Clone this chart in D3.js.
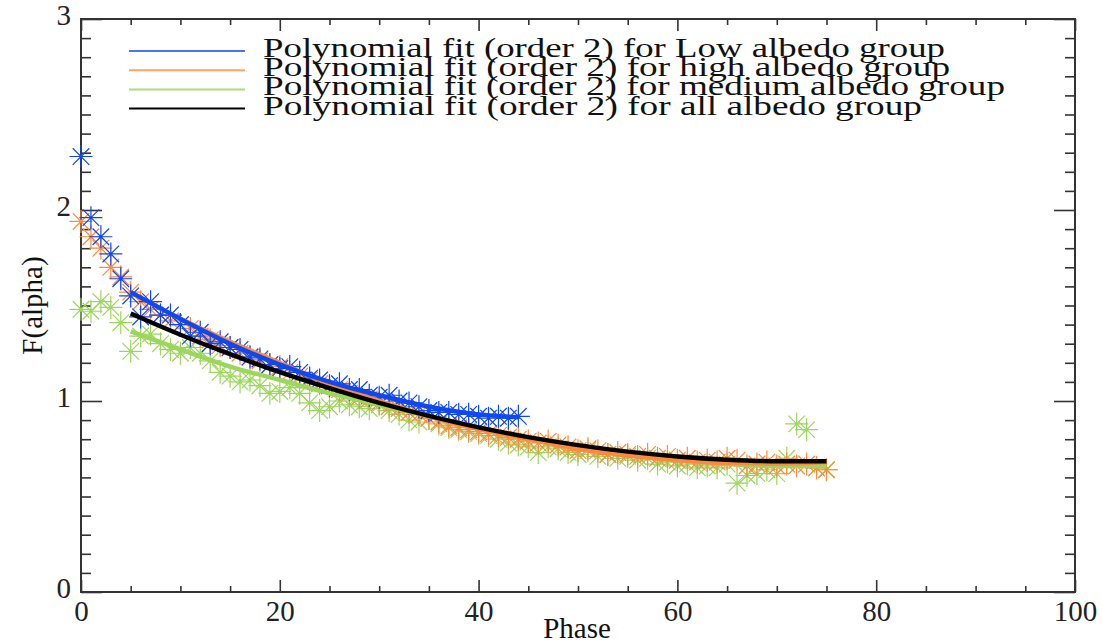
<!DOCTYPE html>
<html>
<head>
<meta charset="utf-8">
<script src="https://cdn.jsdelivr.net/npm/d3@7"></script>
<style>
  body { margin: 0; background: #fff; }
  svg { display: block; }
  .tick text { font-family: "Liberation Serif", serif; font-size: 29px; fill: #222; }
  .domain { display: none; }
  .tick line { stroke: #333; stroke-width: 1.6; }
</style>
</head>
<body>
<svg id="chart" width="1102" height="643"></svg>
<script>
// phase values for each sample (degrees)
var lowPhase = d3.range(0, 45);
var lowVals = [2.28, 1.96, 1.86, 1.77, 1.64, 1.55, 1.44, 1.52, 1.45, 1.45,
    1.40, 1.34, 1.36, 1.30, 1.31, 1.28, 1.27, 1.23, 1.22, 1.19,
    1.17, 1.18, 1.15, 1.12, 1.11, 1.08, 1.09, 1.06, 1.06, 1.03,
    1.02, 1.03, 1.00, 0.99, 0.97, 0.95, 0.94, 0.94, 0.93, 0.93,
    0.92, 0.91, 0.92, 0.91, 0.92];

var highPhase = d3.range(0, 76);
var highVals = [1.94, 1.86, 1.80, 1.70, 1.65, 1.57, 1.52, 1.48, 1.45, 1.42,
    1.40, 1.38, 1.34, 1.32, 1.29, 1.28, 1.25, 1.23, 1.21, 1.19,
    1.18, 1.15, 1.13, 1.11, 1.09, 1.08, 1.06, 1.04, 1.02, 1.01,
    0.99, 0.97, 0.96, 0.94, 0.93, 0.91, 0.89, 0.87, 0.86, 0.85,
    0.84, 0.83, 0.82, 0.81, 0.80, 0.79, 0.78, 0.79, 0.77, 0.76,
    0.74, 0.75, 0.74, 0.72, 0.73, 0.72, 0.71, 0.72, 0.70, 0.71,
    0.69, 0.70, 0.68, 0.69, 0.68, 0.70, 0.69, 0.66, 0.67, 0.68,
    0.66, 0.67, 0.66, 0.67, 0.65, 0.64];

var medPhase = d3.range(0, 76);
var medVals = [1.48, 1.47, 1.52, 1.49, 1.41, 1.26, 1.34, 1.35, 1.30, 1.27,
    1.25, 1.28, 1.25, 1.21, 1.15, 1.13, 1.10, 1.11, 1.08, 1.04,
    1.05, 1.07, 1.04, 0.99, 0.95, 0.97, 1.00, 0.98, 0.97, 0.96,
    0.98, 0.95, 0.93, 0.90, 0.89, 0.91, 0.88, 0.86, 0.85, 0.84,
    0.83, 0.82, 0.80, 0.78, 0.77, 0.76, 0.73, 0.76, 0.75, 0.73,
    0.72, 0.74, 0.71, 0.72, 0.70, 0.71, 0.69, 0.70, 0.67, 0.68,
    0.66, 0.67, 0.65, 0.66, 0.65, 0.67, 0.57, 0.61, 0.62, 0.64,
    0.62, 0.70, 0.88, 0.85, 0.65, 0.64];

// fitted curves
var fitPhase = [5, 10, 15, 20, 25, 30, 35, 40, 45, 50, 55, 60, 65, 70, 75];
var lowFitPhase = [5, 10, 15, 20, 25, 30, 35, 40, 44];
var lowFit = [1.57, 1.43, 1.30, 1.19, 1.10, 1.03, 0.97, 0.93, 0.915];
var highFit = [1.57, 1.43, 1.31, 1.20, 1.09, 1.00, 0.92, 0.855, 0.80, 0.75, 0.715, 0.69, 0.675, 0.672, 0.68];
var medFit = [1.365, 1.27, 1.18, 1.11, 1.04, 0.98, 0.92, 0.86, 0.80, 0.76, 0.72, 0.69, 0.67, 0.66, 0.66];
var allFit = [1.458, 1.347, 1.245, 1.151, 1.067, 0.99, 0.922, 0.862, 0.811, 0.769, 0.735, 0.71, 0.693, 0.685, 0.685];

var legendLabels = [
    'Polynomial fit (order 2) for Low albedo group',
    'Polynomial fit (order 2) for high albedo group',
    'Polynomial fit (order 2) for medium albedo group',
    'Polynomial fit (order 2) for all albedo group'
];

var xMajor = [0, 20, 40, 60, 80, 100];
var yMajor = [0, 1, 2, 3];

var colors = ['#1048f0', '#ff8a3d', '#9cd65c', '#000000'];
var legendColors = ['#4a74f0', '#ffa468', '#abdc78', '#000000'];
var legendWidths = [682, 687, 742, 659];

var svg = d3.select('#chart');
var padL = 81, padR = 1075, padT = 19, padB = 592;

var x = d3.scaleLinear().domain([0, 100]).range([padL, padR]);
var y = d3.scaleLinear().domain([0, 3]).range([padB, padT]);

var xMinor = d3.range(0, 101, 5).filter(function(d){ return d % 20 !== 0; });
var yMinor = d3.range(0, 31).map(function(d){ return d / 10; })
    .filter(function(d){ return Math.abs(d - Math.round(d)) > 0.01; });

// axes: ticks pointing inward
function addAxis(axisFn, scale, vals, size, translate, labels) {
    return svg.append('g').attr('transform', translate)
        .call(axisFn(scale).tickValues(vals).tickSize(size).tickFormat(labels ? d3.format('d') : ''));
}
addAxis(d3.axisBottom, x, xMajor, -12, 'translate(0,' + padB + ')', true)
    .selectAll('text').attr('y', 8).attr('dy', '0.71em');
addAxis(d3.axisBottom, x, xMinor, -6, 'translate(0,' + padB + ')', false);
addAxis(d3.axisTop, x, xMajor, -12, 'translate(0,' + padT + ')', false);
addAxis(d3.axisTop, x, xMinor, -6, 'translate(0,' + padT + ')', false);
addAxis(d3.axisLeft, y, yMajor, -21, 'translate(' + padL + ',0)', true)
    .selectAll('text').attr('x', -10).attr('dy', '0.2em');
addAxis(d3.axisLeft, y, yMinor, -10, 'translate(' + padL + ',0)', false);
addAxis(d3.axisRight, y, yMajor, -21, 'translate(' + padR + ',0)', false);
addAxis(d3.axisRight, y, yMinor, -10, 'translate(' + padR + ',0)', false);

svg.append('rect')
    .attr('x', padL).attr('y', padT)
    .attr('width', padR - padL).attr('height', padB - padT)
    .style('fill', 'none').style('stroke', '#333').style('stroke-width', 2);

// asterisk markers
function drawStars(phases, vals, color) {
    var r = 11.5, k = r * 0.72;
    var star = 'M' + (-r) + ',0L' + r + ',0M0,' + (-r) + 'L0,' + r +
        'M' + (-k) + ',' + (-k) + 'L' + k + ',' + k +
        'M' + (-k) + ',' + k + 'L' + k + ',' + (-k);
    svg.append('g').selectAll('path')
        .data(vals)
        .enter()
        .append('path')
        .attr('d', star)
        .attr('transform', function(d, i){
            return 'translate(' + x(phases[i]) + ',' + y(d) + ')';
        })
        .style('fill', 'none')
        .style('stroke', color)
        .style('stroke-width', 1.2);
}
drawStars(medPhase, medVals, colors[2]);
drawStars(highPhase, highVals, colors[1]);
drawStars(lowPhase, lowVals, colors[0]);

var line = d3.line()
    .x(function(d){ return x(d[0]); })
    .y(function(d){ return y(d[1]); })
    .curve(d3.curveMonotoneX);

function drawFit(phases, vals, color) {
    svg.append('path')
        .datum(vals.map(function(v, i){ return [phases[i], v]; }))
        .attr('d', line)
        .style('fill', 'none')
        .style('stroke', color)
        .style('stroke-width', 4.5);
}
drawFit(fitPhase, medFit, colors[2]);
drawFit(fitPhase, highFit, colors[1]);
drawFit(lowFitPhase, lowFit, colors[0]);
drawFit(fitPhase, allFit, colors[3]);

// legend
var legend = svg.append('g');
legendLabels.forEach(function(label, i){
    var ly = 51 + i * 19.2;
    legend.append('line')
        .attr('x1', 129).attr('x2', 245)
        .attr('y1', ly).attr('y2', ly)
        .style('stroke', legendColors[i])
        .style('stroke-width', 2);
    legend.append('text')
        .attr('x', 263).attr('y', ly + 6)
        .attr('textLength', legendWidths[i])
        .attr('lengthAdjust', 'spacingAndGlyphs')
        .style('font-family', '"Liberation Serif", serif')
        .style('font-size', '27px')
        .style('fill', '#111')
        .text(label);
});

svg.append('text')
    .attr('x', 577).attr('y', 638)
    .attr('text-anchor', 'middle')
    .style('font-family', '"Liberation Serif", serif')
    .style('font-size', '29px')
    .style('fill', '#111')
    .text('Phase');

svg.append('text')
    .attr('transform', 'translate(42,' + ((padT + padB) / 2) + ') rotate(-90)')
    .attr('text-anchor', 'middle')
    .style('font-family', '"Liberation Serif", serif')
    .style('font-size', '29px')
    .style('fill', '#111')
    .text('F(alpha)');
</script>
</body>
</html>
